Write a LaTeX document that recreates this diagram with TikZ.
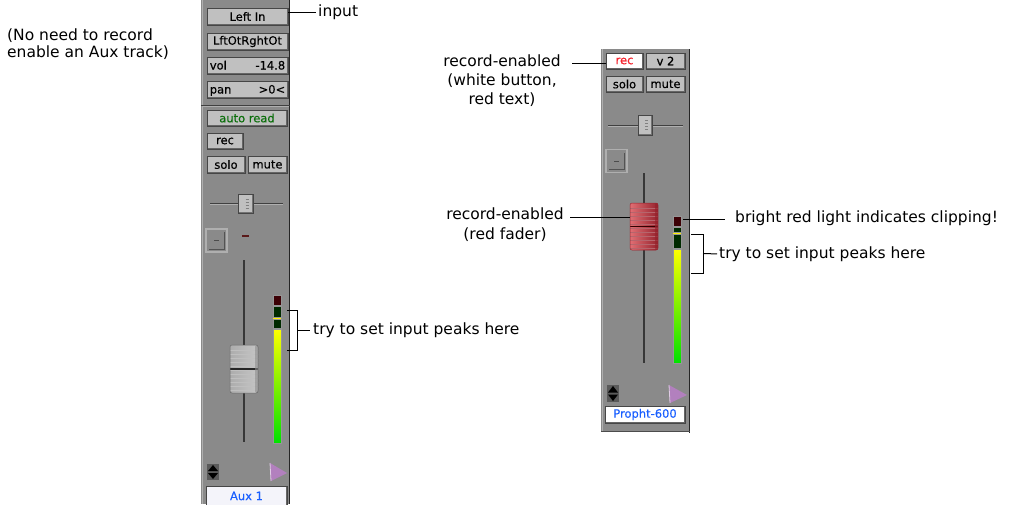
\documentclass[tikz,border=0pt]{standalone}
\usepackage{fontspec}
\setmainfont{DejaVu Sans}
\newfontfamily\btnfamily{DejaVu Sans}[FakeBold=0.4]
\usetikzlibrary{calc}
\definecolor{panelgray}{RGB}{138,138,138}
\definecolor{panelhi}{RGB}{175,175,175}
\definecolor{btngray}{RGB}{192,192,192}
\definecolor{btnhi}{RGB}{235,235,235}
\definecolor{btnlo}{RGB}{70,70,70}
\definecolor{recred}{RGB}{245,35,45}
\definecolor{autogreen}{RGB}{10,110,10}
\definecolor{namblue}{RGB}{25,95,255}
\definecolor{purp}{RGB}{178,128,190}
\definecolor{mred}{RGB}{60,0,5}
\definecolor{mgreen}{RGB}{0,42,0}
\definecolor{mbright}{RGB}{0,225,0}
\definecolor{mmid}{RGB}{150,250,0}
\definecolor{track}{RGB}{55,55,55}
\definecolor{dashred}{RGB}{90,25,25}
\definecolor{pinkhi}{RGB}{255,200,200}
\definecolor{pinklo}{RGB}{150,35,45}
\definecolor{pinkmid}{RGB}{225,110,115}
\begin{document}
\begin{tikzpicture}[x=1pt,y=-1pt,
  lbl/.style={font=\fontsize{15.5}{17}\selectfont, inner sep=0pt, text=black},
  btnfont/.style={font=\btnfamily\fontsize{11.5}{12}\selectfont},
  btn/.style={rectangle, inner sep=0pt, fill=btngray, draw=btnlo, line width=0.8pt, btnfont,
    path picture={
      \draw[btnhi, line width=2.4pt] (path picture bounding box.south west) -- (path picture bounding box.north west) -- (path picture bounding box.north east);
      \draw[black!60, line width=3pt] (path picture bounding box.north east) -- (path picture bounding box.south east) -- (path picture bounding box.south west);}},
  btntext/.style={inner sep=0pt, btnfont},
  namebtn/.style={btn, fill={rgb,255:red,244;green,244;blue,250}, text=namblue},
  knobsm/.style={rectangle, inner sep=0pt, minimum width=14, minimum height=19, fill=btngray, draw=btnlo, line width=0.7pt,
    path picture={
      \draw[btnhi, line width=2.4pt] (path picture bounding box.south west) -- (path picture bounding box.north west) -- (path picture bounding box.north east);
      \draw[black!55, line width=2.4pt] (path picture bounding box.north east) -- (path picture bounding box.south east) -- (path picture bounding box.south west);
      \foreach \yy in {-4.5,-1.5,1.5,4.5}
        \draw[black!50, line width=0.8pt] ($(path picture bounding box.center)+(0,\yy)$) -- ++(3,0);}},
  sqbtn/.style={rectangle, inner sep=0pt, minimum width=21, minimum height=23, fill=panelgray, draw=panelhi, line width=1.6pt,
    path picture={
      \draw[black!40!panelgray, line width=1pt] ($(path picture bounding box.south west)+(3,-3)$) -- ($(path picture bounding box.south east)+(-3,-3)$) -- ($(path picture bounding box.north east)+(-3,3)$);
      \draw[black!45!panelgray, line width=0.8pt] ($(path picture bounding box.center)+(-2.5,0)$) -- ++(5,0);}},
  faderknob/.style={rectangle, rounded corners=2pt, inner sep=0pt, minimum width=28, minimum height=48,
    left color=gray!65, middle color=white, right color=gray!45, draw=black!60, line width=0.5pt,
    path picture={
      \foreach \yy in {5,9,...,45}
        \draw[black!25, line width=0.8pt] ($(path picture bounding box.north west)+(0,\yy)$) -- ++(40,0);
      \draw[black!85, line width=1.6pt] (path picture bounding box.west) -- (path picture bounding box.east);
      \fill[black!45, opacity=0.6] ($(path picture bounding box.north east)+(-3,0)$) rectangle (path picture bounding box.south east);}},
  redknob/.style={faderknob, left color=pinkmid, middle color=pinkhi, right color=pinklo, draw=pinklo,
    path picture={
      \foreach \yy in {5,9,...,45}
        \draw[pinklo!70, line width=0.8pt] ($(path picture bounding box.north west)+(0,\yy)$) -- ++(40,0);
      \draw[black!80!red, line width=1.6pt] (path picture bounding box.west) -- (path picture bounding box.east);
      \fill[pinklo, opacity=0.7] ($(path picture bounding box.north east)+(-3,0)$) rectangle (path picture bounding box.south east);}},
  seg/.style={draw={rgb,255:red,150;green,150;blue,150}, line width=0.6pt},
  conn/.style={line width=1pt, black},
]
\useasboundingbox (0,0) rectangle (1009,504);

% ---------------- left channel strip ----------------
\fill[panelgray] (201,0) rectangle (290,504);
\draw[panelhi, line width=1.5pt] (202.5,0) -- (202.5,504);
\draw[black!85, line width=1.5pt] (289.5,0) -- (289.5,504);

\node[btn, minimum width=81, minimum height=17] (leftin) at (247.5,16.5) {Left In};
\node[btn, minimum width=81, minimum height=17] (lftout) at (247.5,41.5) {LftOtRghtOt};
\node[btn, minimum width=81, minimum height=17] (vol) at (247.5,65.5) {};
\node[btntext, anchor=base west] (volname) at ($(vol.west)+(3,4)$) {vol};
\node[btntext, anchor=base east] (volval) at ($(vol.east)+(-3,4)$) {-14.8};
\node[btn, minimum width=81, minimum height=17] (pan) at (247.5,89.5) {};
\node[btntext, anchor=base west] (panname) at ($(pan.west)+(3,4)$) {pan};
\node[btntext, anchor=base east] (panval) at ($(pan.east)+(-3,4)$) {>0<};
\draw[black!75, line width=1pt] (201,105) -- (290,105);
\draw[panelhi, line width=1pt] (203,106.5) -- (289,106.5);
\node[btn, minimum width=80, minimum height=16, text=autogreen] (autoread) at (247,118) {auto read};
\node[btn, minimum width=36, minimum height=16] (recL) at (225,141) {rec};
\node[btn, minimum width=38, minimum height=17] (soloL) at (226,164.5) {solo};
\node[btn, minimum width=39, minimum height=17] (muteL) at (267.5,164.5) {mute};

\draw[black!75, line width=1pt] (210,203) -- (283,203);
\draw[panelhi, line width=0.8pt] (210,204.5) -- (283,204.5);
\node[knobsm, minimum width=15] (panknobL) at (245.5,203.5) {};
\node[sqbtn] (sqL) at (216.5,240.5) {};
\draw[dashred, line width=1.5pt] (242,236) -- (249,236);

\draw[track, line width=1.6pt] (244,260) -- (244,442);
\node[faderknob] (faderL) at (244,369) {};

% meter left
\filldraw[seg, fill=mred] (273,295) rectangle (281,305);
\filldraw[seg, fill=mgreen] (273,306) rectangle (281,317.5);
\fill[yellow] (273.3,317.5) rectangle (280.7,319);
\filldraw[seg, fill=mgreen] (273,319) rectangle (281,328.5);
\shade[top color=yellow, middle color=mmid, bottom color=mbright] (273,329) rectangle (281,443);
\draw[seg] (273,329) rectangle (281,443);

% arrows and output
\fill[black!35!panelgray] (207,464) rectangle (219,480);
\fill[black] (208,471) -- (213,465) -- (218,471) -- cycle;
\fill[black] (208,473) -- (218,473) -- (213,479) -- cycle;
\fill[purp] (270,463) -- (287,473) -- (271,481) -- cycle;
\draw[white!60!purp, line width=0.8pt] (270,463) -- (271,481);
\node[namebtn, minimum width=81, minimum height=20] (aux) at (246.5,496) {Aux 1};

% ---------------- right channel strip ----------------
\fill[panelgray] (601,49) rectangle (690,432);
\draw[panelhi, line width=1.5pt] (602.5,49) -- (602.5,432);
\draw[black!85, line width=1.5pt] (689.5,49) -- (689.5,432.5);
\draw[black!70, line width=1.5pt] (601,431.5) -- (690,431.5);

\node[btn, fill=white, text=recred, minimum width=37, minimum height=16] (recR) at (624.5,61) {rec};
\node[btn, minimum width=39, minimum height=16] (v2) at (665.5,61) {v 2};
\node[btn, minimum width=37, minimum height=16] (soloR) at (624.5,84) {solo};
\node[btn, minimum width=39, minimum height=16] (muteR) at (665.5,84) {mute};

\draw[black!75, line width=1pt] (608,125) -- (683,125);
\draw[panelhi, line width=0.8pt] (608,126.5) -- (683,126.5);
\node[knobsm, minimum height=20] (panknobR) at (645,125) {};
\node[sqbtn] (sqR) at (616.5,161) {};

\draw[track, line width=1.6pt] (644,173) -- (644,363);
\node[redknob, minimum height=47] (faderR) at (644,226.5) {};

% meter right
\filldraw[seg, fill=mred] (673,216) rectangle (681,226);
\filldraw[seg, fill=mgreen] (673,227) rectangle (681,232.5);
\fill[yellow] (673.3,232.5) rectangle (680.7,234);
\filldraw[seg, fill=mgreen] (673,234) rectangle (681,248.5);
\shade[top color=yellow, middle color=mmid, bottom color=mbright] (673,249) rectangle (681,363);
\draw[seg] (673,249) rectangle (681,363);

\fill[black!35!panelgray] (607,385) rectangle (619,402);
\fill[black] (608,392.5) -- (613,386) -- (618,392.5) -- cycle;
\fill[black] (608,394.5) -- (618,394.5) -- (613,401) -- cycle;
\fill[purp] (669,385) -- (687,395) -- (670,403) -- cycle;
\draw[white!60!purp, line width=0.8pt] (669,385) -- (670,403);
\node[namebtn, fill=white, minimum width=80, minimum height=17] (propht) at (645,414.5) {Propht-600};

% ---------------- labels and connectors ----------------
\node[lbl, anchor=west, align=left, font=\fontsize{15.5}{16.5}\selectfont] (note) at (7,44) {(No need to record\\enable an Aux track)};

\node[lbl, anchor=west] (inputlbl) at (318,12) {input};
\draw[conn, shorten >=2pt] (leftin.east |- inputlbl.west) -- (inputlbl.west);

\node[lbl, anchor=west] (peakL) at (313,330) {try to set input peaks here};
\coordinate (bLtop) at (287,310);
\coordinate (bLbot) at (287,350);
\coordinate (bLmid) at (297,330);
\draw[conn] (bLtop) -- ++(10,0) |- (bLbot);
\draw[conn, shorten >=3pt] (bLmid) -- (peakL.west);

\node[lbl, align=center, font=\fontsize{15.5}{19}\selectfont] (reclbl) at (502,81) {record-enabled\\(white button,\\red text)};
\coordinate (recc) at (572,63);
\draw[conn] (recc) -- (recc -| recR.west);

\node[lbl, align=center, font=\fontsize{15.5}{20}\selectfont] (faderlbl) at (505,225) {record-enabled\\(red fader)};
\coordinate (fadc) at (570,217);
\draw[conn] (fadc) -- (fadc -| faderR.west);

\node[lbl, anchor=west] (cliplbl) at (735,218) {bright red light indicates clipping!};
\coordinate (clipc) at (683,219);
\draw[conn, shorten >=10pt] (clipc) -- (clipc -| cliplbl.west);

\node[lbl, anchor=west] (peakR) at (719,254) {try to set input peaks here};
\coordinate (bRtop) at (691,234);
\coordinate (bRbot) at (691,273);
\coordinate (bRmid) at (703,253.5);
\draw[conn] (bRtop) -- ++(12,0) |- (bRbot);
\draw[conn, shorten >=2pt] (bRmid) -- (peakR.west);
\end{tikzpicture}
\end{document}
